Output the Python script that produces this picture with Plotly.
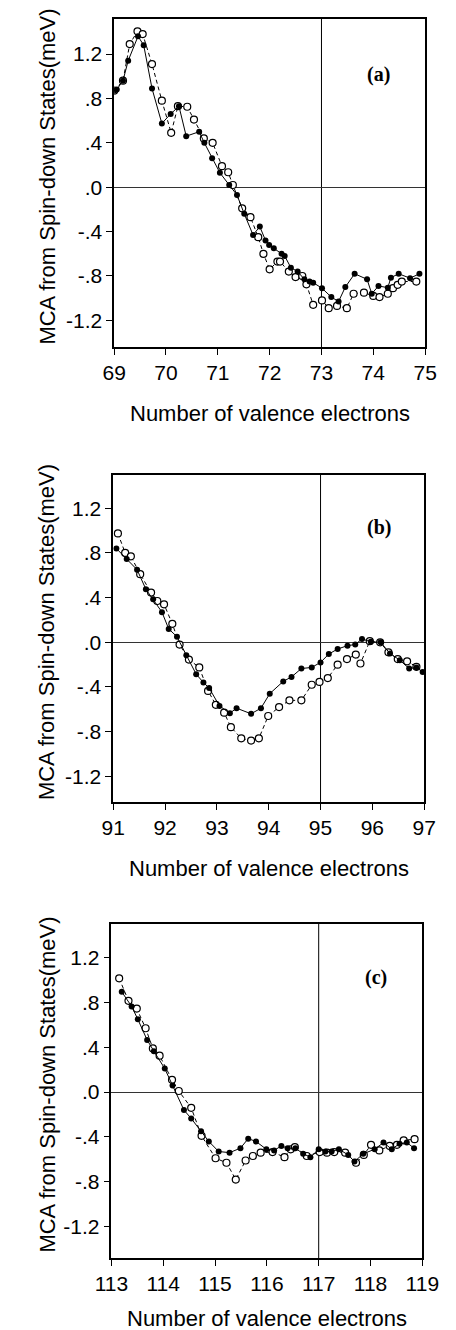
import plotly.graph_objects as go

# ---------------- data ----------------
# Panel (a)
a_x_filled = [69.00, 69.05, 69.17, 69.27, 69.46, 69.57, 69.73, 69.92, 70.09, 70.25, 70.39, 70.64, 70.74,
              70.89, 71.04, 71.22, 71.37, 71.51, 71.68, 71.81, 71.92, 71.99, 72.08, 72.23, 72.29, 72.41,
              72.54, 72.67, 72.77, 72.84, 73.01, 73.19, 73.33, 73.46, 73.64, 73.88, 73.97, 74.10, 74.28,
              74.34, 74.49, 74.71, 74.89]
a_y_filled = [0.87, 0.88, 0.96, 1.14, 1.36, 1.28, 0.89, 0.575, 0.66, 0.73, 0.46, 0.50, 0.40,
              0.26, 0.13, 0.02, -0.07, -0.24, -0.43, -0.355, -0.48, -0.52, -0.55, -0.60, -0.62, -0.725,
              -0.76, -0.83, -0.85, -0.86, -0.91, -0.99, -1.03, -0.90, -0.78, -0.83, -0.96, -0.89, -0.905,
              -0.815, -0.78, -0.82, -0.78]
a_x_open = [69.00, 69.17, 69.30, 69.45, 69.55, 69.73, 69.92, 70.10, 70.23, 70.41, 70.54, 70.73, 70.90,
            71.08, 71.20, 71.29, 71.47, 71.63, 71.78, 71.88, 72.00, 72.15, 72.20, 72.37, 72.50, 72.63,
            72.71, 72.84, 73.01, 73.14, 73.30, 73.49, 73.62, 73.82, 74.00, 74.12, 74.28, 74.38, 74.47,
            74.55, 74.83]
a_y_open = [0.87, 0.96, 1.29, 1.405, 1.38, 1.11, 0.78, 0.49, 0.73, 0.725, 0.61, 0.44, 0.40,
            0.19, 0.135, 0.02, -0.19, -0.27, -0.45, -0.60, -0.74, -0.67, -0.67, -0.76, -0.81, -0.80,
            -0.875, -1.06, -1.02, -1.09, -1.07, -1.09, -0.96, -0.95, -0.98, -0.99, -0.96, -0.91, -0.88,
            -0.85, -0.85]

# Panel (b)
b_x_filled = [91.06, 91.26, 91.46, 91.63, 91.77, 91.94, 92.07, 92.23, 92.41, 92.60, 92.74, 92.85, 93.05,
              93.25, 93.38, 93.66, 93.85, 94.02, 94.28, 94.44, 94.63, 94.83, 95.00, 95.16, 95.33, 95.52,
              95.67, 95.80, 95.97, 96.16, 96.34, 96.53, 96.71, 96.85, 96.97]
b_y_filled = [0.84, 0.745, 0.65, 0.475, 0.385, 0.27, 0.12, 0.05, -0.115, -0.285, -0.36, -0.41, -0.57,
              -0.635, -0.59, -0.64, -0.59, -0.46, -0.35, -0.31, -0.235, -0.225, -0.18, -0.105, -0.06, -0.03,
              -0.02, 0.03, 0.005, 0.0, -0.10, -0.16, -0.235, -0.225, -0.265]
b_x_open = [91.09, 91.23, 91.34, 91.52, 91.73, 91.85, 91.98, 92.14, 92.28, 92.46, 92.66, 92.83, 92.98,
            93.14, 93.27, 93.47, 93.66, 93.81, 93.99, 94.20, 94.40, 94.63, 94.83, 94.98, 95.14, 95.33,
            95.51, 95.68, 95.77, 95.95, 96.15, 96.31, 96.49, 96.67, 96.85]
b_y_open = [0.975, 0.80, 0.77, 0.61, 0.445, 0.37, 0.34, 0.165, -0.02, -0.155, -0.225, -0.435, -0.56,
            -0.63, -0.76, -0.86, -0.88, -0.86, -0.66, -0.58, -0.52, -0.52, -0.38, -0.355, -0.32, -0.20,
            -0.15, -0.11, -0.19, 0.01, 0.0, -0.09, -0.15, -0.17, -0.22]

# Panel (c)
c_x_filled = [113.20, 113.39, 113.51, 113.69, 113.82, 114.03, 114.18, 114.40, 114.54, 114.73, 114.88,
              115.07, 115.28, 115.49, 115.64, 115.79, 115.99, 116.14, 116.28, 116.40, 116.55, 116.70,
              116.84, 117.00, 117.13, 117.25, 117.39, 117.57, 117.69, 117.86, 118.08, 118.25, 118.41,
              118.56, 118.70, 118.84]
c_y_filled = [0.895, 0.765, 0.65, 0.465, 0.365, 0.21, 0.06, -0.16, -0.235, -0.35, -0.44,
              -0.53, -0.54, -0.50, -0.415, -0.44, -0.51, -0.52, -0.48, -0.50, -0.50, -0.55,
              -0.58, -0.51, -0.53, -0.53, -0.51, -0.56, -0.62, -0.55, -0.51, -0.45, -0.51,
              -0.46, -0.45, -0.50]
c_x_open = [113.15, 113.33, 113.49, 113.66, 113.80, 113.93, 114.17, 114.30, 114.54, 114.74, 115.01,
            115.22, 115.40, 115.59, 115.73, 115.88, 116.11, 116.34, 116.46, 116.54, 116.77, 117.02,
            117.16, 117.30, 117.51, 117.72, 117.87, 118.01, 118.17, 118.37, 118.51, 118.64, 118.85]
c_y_open = [1.015, 0.815, 0.745, 0.57, 0.39, 0.325, 0.11, 0.01, -0.14, -0.39, -0.59,
            -0.63, -0.78, -0.61, -0.57, -0.54, -0.535, -0.58, -0.51, -0.49, -0.57, -0.535,
            -0.54, -0.535, -0.54, -0.63, -0.56, -0.47, -0.52, -0.48, -0.47, -0.43, -0.42]

panel_labels = ["(a)", "(b)", "(c)"]
x_ranges = [[69, 75], [91, 97], [113, 119]]
x_ticks_a = [69, 70, 71, 72, 73, 74, 75]
x_ticks_b = [91, 92, 93, 94, 95, 96, 97]
x_ticks_c = [113, 114, 115, 116, 117, 118, 119]
vline_pos = [73, 95, 117]
y_tickvals = [-1.2, -0.8, -0.4, 0.0, 0.4, 0.8, 1.2]
y_ticktext = ["-1.2", "-.8", "-.4", ".0", ".4", ".8", "1.2"]
y_title = "MCA from Spin-down States(meV)"
x_title = "Number of valence electrons"

# ---------------- layout geometry (pixels) ----------------
W, H = 456, 1330
panels_px = [  # left, right, top, bottom
    (105, 441, 19, 347),
    (104, 440, 475, 802),
    (102, 438, 924, 1258),
]
y_ranges = [[-1.44, 1.516], [-1.43, 1.498], [-1.48, 1.50]]
xtitle_y_px = [413, 868, 1318]
label_pos_px = [(391, 74), (391, 528), (388, 977)]

FONT = "Liberation Sans, Arial, Helvetica, sans-serif"

fig = go.Figure()

series = [
    (a_x_filled, a_y_filled, a_x_open, a_y_open, x_ticks_a),
    (b_x_filled, b_y_filled, b_x_open, b_y_open, x_ticks_b),
    (c_x_filled, c_y_filled, c_x_open, c_y_open, x_ticks_c),
]

for i, (xf, yf, xo, yo, xt) in enumerate(series):
    sfx = "" if i == 0 else str(i + 1)
    xa, ya = "x" + sfx, "y" + sfx
    fig.add_trace(go.Scatter(
        x=xo, y=yo, xaxis=xa, yaxis=ya, mode="lines+markers",
        line=dict(color="black", width=1, dash="4px,3px"),
        marker=dict(symbol="circle", size=7, color="white", line=dict(color="black", width=1.2)),
        showlegend=False, hoverinfo="skip"))
    fig.add_trace(go.Scatter(
        x=xf, y=yf, xaxis=xa, yaxis=ya, mode="lines+markers",
        line=dict(color="black", width=1),
        marker=dict(symbol="circle", size=6, color="black"),
        showlegend=False, hoverinfo="skip"))

    l, r, t, b = panels_px[i]
    axis_common = dict(showline=True, linecolor="black", linewidth=1.5, mirror=True,
                       ticks="outside", ticklen=6, tickwidth=1, tickcolor="black",
                       showgrid=False,
                       tickfont=dict(family=FONT, size=21, color="black"))
    fig.update_layout(**{
        "xaxis" + sfx: dict(domain=[l / W, r / W], range=x_ranges[i], anchor=ya,
                            tickvals=xt, ticktext=[str(v) for v in xt],
                            zeroline=False, **axis_common),
        "yaxis" + sfx: dict(domain=[1 - b / H, 1 - t / H], range=y_ranges[i], anchor=xa,
                            tickvals=y_tickvals, ticktext=y_ticktext,
                            zeroline=True, zerolinecolor="#333333", zerolinewidth=1,
                            **axis_common),
    })
    fig.add_shape(type="line", xref=xa, yref=ya + " domain",
                  x0=vline_pos[i], x1=vline_pos[i], y0=0, y1=1,
                  line=dict(color="black", width=1), layer="below")
    # y title
    fig.add_annotation(text=y_title, xref="paper", yref="paper",
                       x=32 / W, y=1 - ((t + b) / 2 - 6) / H, textangle=-90,
                       showarrow=False, xanchor="center", yanchor="middle",
                       font=dict(family=FONT, size=22, color="black"))
    # x title
    fig.add_annotation(text=x_title, xref="paper", yref="paper",
                       x=((l + r) / 2) / W, y=1 - xtitle_y_px[i] / H,
                       showarrow=False, xanchor="center", yanchor="middle",
                       font=dict(family=FONT, size=22, color="black"))
    # panel label
    lx, ly = label_pos_px[i]
    fig.add_annotation(text="<b>" + panel_labels[i] + "</b>", xref="paper", yref="paper",
                       x=lx / W, y=1 - ly / H, showarrow=False,
                       xanchor="center", yanchor="middle",
                       font=dict(family="Liberation Serif, Times New Roman, serif", size=20, color="black"))

fig.update_layout(width=W, height=H, margin=dict(l=0, r=0, t=0, b=0),
                  paper_bgcolor="white", plot_bgcolor="white", showlegend=False)

fig.write_html("out.html")
